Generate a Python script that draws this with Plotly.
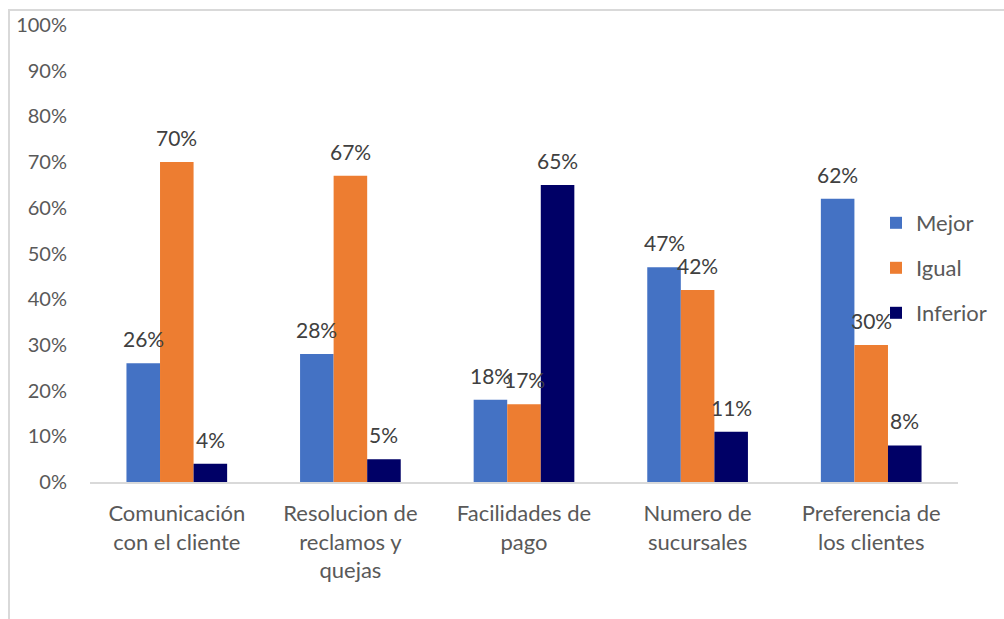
import plotly.graph_objects as go

categories = [
    "Comunicación<br>con el cliente",
    "Resolucion de<br>reclamos y<br>quejas",
    "Facilidades de<br>pago",
    "Numero de<br>sucursales",
    "Preferencia de<br>los clientes",
]
mejor = [26, 28, 18, 47, 62]
igual = [70, 67, 17, 42, 30]
inferior = [4, 5, 65, 11, 8]

series_names = ["Mejor", "Igual", "Inferior"]
series_values = [mejor, igual, inferior]
series_colors = ["#4472C4", "#ED7D31", "#000066"]
legend_ids = ["legend", "legend2", "legend3"]

y_ticks = list(range(0, 101, 10))
y_tick_labels = [f"{v}%" for v in y_ticks]

FONT = "Lato, 'Open Sans', sans-serif"
TEXT_GRAY = "#595959"
LABEL_GRAY = "#404040"

# plot-area geometry in pixels
W, H = 1004, 619
L, R, T, B = 90, 46, 25, 137
plot_w = W - L - R
plot_h = H - T - B
BARGAP = 0.42
bar_px = plot_w / len(categories) * (1 - BARGAP) / len(series_names)

fig = go.Figure()
for name, vals, color, lg in zip(series_names, series_values, series_colors, legend_ids):
    fig.add_trace(go.Bar(
        x=categories,
        y=vals,
        name=name,
        marker=dict(color=color, line=dict(width=0)),
        legend=lg,
    ))

# value labels above each bar
for i, (name, vals) in enumerate(zip(series_names, series_values)):
    offset = (i - (len(series_names) - 1) / 2) * bar_px
    for cat, v in zip(categories, vals):
        fig.add_annotation(
            x=cat, y=v, text=f"{v}%", showarrow=False,
            xanchor="center", yanchor="bottom",
            xshift=offset, yshift=10,
            font=dict(size=21, color=LABEL_GRAY, family=FONT),
        )

legend_common = dict(
    x=(876 - L) / plot_w, xanchor="left", yanchor="middle",
    font=dict(size=22, color=TEXT_GRAY, family=FONT),
    bgcolor="rgba(0,0,0,0)", borderwidth=0,
    itemwidth=30,
)
fig.update_layout(
    barmode="group",
    bargap=BARGAP,
    bargroupgap=0,
    width=W,
    height=H,
    margin=dict(l=L, r=R, t=T, b=B, autoexpand=False),
    paper_bgcolor="white",
    plot_bgcolor="white",
    showlegend=True,
    legend=dict(**legend_common, y=(482 - 223) / plot_h),
    legend2=dict(**legend_common, y=(482 - 268) / plot_h),
    legend3=dict(**legend_common, y=(482 - 313) / plot_h),
    font=dict(family=FONT, color=TEXT_GRAY),
)
fig.update_xaxes(
    showline=True, linecolor="#D9D9D9", linewidth=1.5,
    showgrid=False, ticks="",
    tickfont=dict(size=22, color=TEXT_GRAY, family=FONT),
    ticklabelstandoff=11,
)
fig.update_yaxes(
    range=[0, 100],
    tickvals=y_ticks, ticktext=y_tick_labels,
    showgrid=False, showline=False, zeroline=False, ticks="",
    tickfont=dict(size=20, color=TEXT_GRAY, family=FONT),
    ticklabelstandoff=22,
)

# light chart-area frame (left and top edges)
px_x = lambda p: (p - L) / plot_w
px_y = lambda p: (H - B - p) / plot_h
frame = dict(type="line", xref="paper", yref="paper", line=dict(color="#D9D9D9", width=2))
fig.add_shape(**frame, x0=px_x(9), x1=px_x(9), y0=px_y(9), y1=px_y(625))
fig.add_shape(**frame, x0=px_x(9), x1=px_x(1010), y0=px_y(10), y1=px_y(10))

fig.write_html("out.html")
